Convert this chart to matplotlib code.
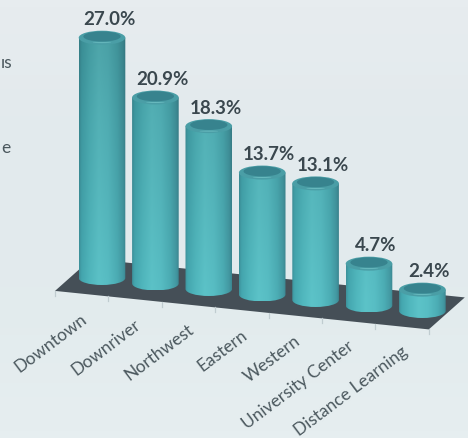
import numpy as np
import matplotlib
matplotlib.use('Agg')
import matplotlib.pyplot as plt
from matplotlib.colors import LinearSegmentedColormap
from matplotlib.patches import Ellipse, Polygon, PathPatch
from matplotlib.path import Path

# Data
campus = ['Downtown', 'Downriver', 'Northwest', 'Eastern', 'Western',
          'University Center', 'Distance Learning']
share = [27.0, 20.9, 18.3, 13.7, 13.1, 4.7, 2.4]

W, H = 468, 438
PX_X = 53.4      # pixels per category
PX_Y = 8.9       # pixels per percent
X0, Y0 = 102, 278  # pixel of first bar base centre
SLOPE = 5.5 / PX_Y  # floor runs downhill to the right
RX = 23.3 / PX_X
RY = 7.0 / PX_Y

plt.rcParams['font.family'] = ['Lato', 'DejaVu Sans']

fig = plt.figure(figsize=(W / 100, H / 100), dpi=100)
ax = fig.add_axes([0, 0, 1, 1])
xlim = (-X0 / PX_X, (W - X0) / PX_X)
ylim = (-(H - Y0) / PX_Y, Y0 / PX_Y)
ax.set_xlim(xlim)
ax.set_ylim(ylim)
ax.axis('off')

# Background wash
bg = LinearSegmentedColormap.from_list('bg', ['#e7ecef', '#e2eaed', '#e2ebed', '#e6eef0'])
ax.imshow(np.linspace(0, 1, 64).reshape(-1, 1), cmap=bg, extent=(*xlim, *ylim),
          aspect='auto', origin='upper', zorder=0)


def base(i):
    return -SLOPE * i


# Floor
ticks = np.arange(len(campus) + 1) - 0.88
dx_depth = 36 / PX_X
dy_depth = 32 / PX_Y
front = [(t, base(t + 0.88) - 1.45) for t in ticks]
fl = front[0]
fr = front[-1]
ax.add_patch(Polygon([fl, fr, (fr[0] + dx_depth, fr[1] + dy_depth),
                      (fl[0] + dx_depth, fl[1] + dy_depth)],
                     closed=True, fc='#454f57', ec='none', zorder=1))
for t, y in front:
    ax.plot([t, t], [y, y - 0.55], color='#c0ccd0', lw=0.9, zorder=1)

# Horizontal shading of a cylinder
stops = np.array([0.0, 0.05, 0.22, 0.42, 0.62, 0.82, 0.95, 1.0])
rgb = np.array([[0x3a, 0x8a, 0x93], [0x40, 0x9c, 0xa4], [0x4b, 0xab, 0xb1], [0x56, 0xb6, 0xbb],
                [0x52, 0xb1, 0xb7], [0x47, 0xa2, 0xa9], [0x3f, 0x8f, 0x98], [0x38, 0x7f, 0x89]]) / 255
xs = np.linspace(0, 1, 60)
profile = np.stack([np.interp(xs, stops, rgb[:, c]) for c in range(3)], axis=1)

for i, v in enumerate(share):
    y0 = base(i)
    y1 = y0 + v
    left, right = i - RX, i + RX

    # body: straight sides with a rounded bottom
    k = 0.5523
    verts = [(left, y1), (left, y0),
             (left, y0 - k * RY), (i - k * RX, y0 - RY), (i, y0 - RY),
             (i + k * RX, y0 - RY), (right, y0 - k * RY), (right, y0),
             (right, y1), (left, y1)]
    codes = [Path.MOVETO, Path.LINETO, Path.CURVE4, Path.CURVE4, Path.CURVE4,
             Path.CURVE4, Path.CURVE4, Path.CURVE4, Path.LINETO, Path.CLOSEPOLY]
    clip = PathPatch(Path(verts, codes), fc='none', ec='none', transform=ax.transData)
    ax.add_patch(clip)

    # darker high up on the page, brighter toward the floor
    top_px = Y0 - y1 * PX_Y
    bot_px = Y0 - (y0 - RY) * PX_Y
    rows = np.linspace(top_px, bot_px, 40)
    fade = np.interp(rows, [30, 120, 300], [0.90, 0.97, 1.07])
    img = np.clip(profile[None, :, :] * fade[:, None, None], 0, 1)
    im = ax.imshow(img, extent=(left, right, y0 - RY, y1), aspect='auto',
                   origin='upper', zorder=2, interpolation='bilinear')
    im.set_clip_path(clip)

    # cap
    ax.add_patch(Ellipse((i, y1), 2 * RX, 2 * RY, fc='#4a9ea6', ec='none', zorder=3))
    ax.add_patch(Ellipse((i, y1 + 0.14), 1.6 * RX, 1.45 * RY, fc='#37838e', ec='none', zorder=3))
    ax.add_patch(Ellipse((i, y1 - 0.56), 0.8 * RX, 0.12 * RY, fc='#86d4d6', ec='none',
                         alpha=0.6, zorder=3))

    ax.text(i + 7 / PX_X, y1 + 18 / PX_Y, f'{v:.1f}%', ha='center', va='center',
            fontsize=13.5, fontweight='bold', color='#3a474e', zorder=4)
    ax.text(i - 17 / PX_X, y0 - 39 / PX_Y, campus[i], rotation=37, ha='right', va='center',
            rotation_mode='anchor', fontsize=12.5, color='#4b585e', zorder=4)

# Text fragments at the left edge of the crop
fig.text(1 / W, 1 - 63 / H, 'ıs', ha='left', va='center', fontsize=12.5, color='#4b585e')
fig.text(1 / W, 1 - 148 / H, 'e', ha='left', va='center', fontsize=12.5, color='#4b585e')

fig.savefig('out.png', dpi=100)
